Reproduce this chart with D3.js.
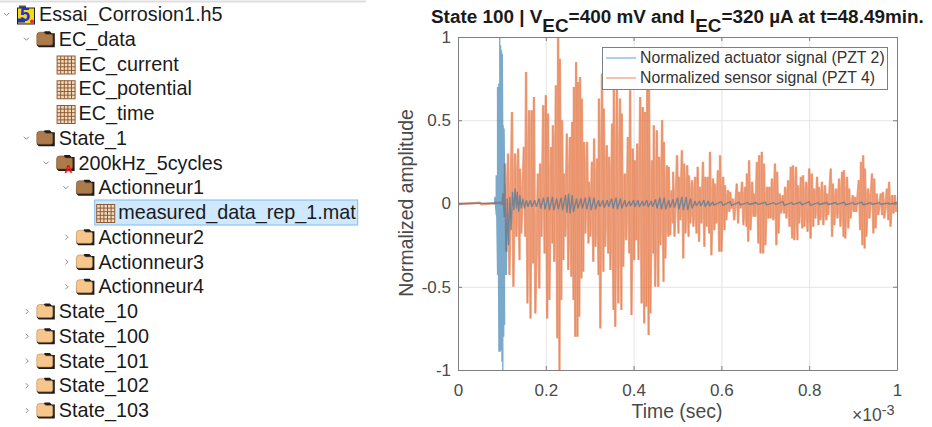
<!DOCTYPE html>
<html>
<head>
<meta charset="utf-8">
<script src="https://cdn.jsdelivr.net/npm/d3@7"></script>
<style>
  html, body { margin: 0; padding: 0; background: #fff; }
  svg { display: block; font-family: "Liberation Sans", Arial, sans-serif; }
</style>
</head>
<body>
<svg id="fig" width="932" height="427"></svg>
<script>
// Tree panel (left)
const treeLabels = ["Essai_Corrosion1.h5", "EC_data", "EC_current", "EC_potential", "EC_time", "State_1",
    "200kHz_5cycles", "Actionneur1", "measured_data_rep_1.mat", "Actionneur2", "Actionneur3", "Actionneur4",
    "State_10", "State_100", "State_101", "State_102", "State_103"];
const treeDepths = [0, 1, 2, 2, 2, 1, 2, 3, 4, 3, 3, 3, 1, 1, 1, 1, 1];
const treeIcons = ["file", "open", "grid", "grid", "grid", "open", "attr", "open", "grid", "closed", "closed", "closed",
    "closed", "closed", "closed", "closed", "closed"];
const treeArrows = ["down", "down", "", "", "", "down", "down", "down", "", "right", "right", "right",
    "right", "right", "right", "right", "right"];
const selectedRow = "measured_data_rep_1.mat";

// Chart text
const legendLabels = ["Normalized actuator signal (PZT 2)", "Normalized sensor signal (PZT 4)"];
const xTicks = [0, 0.2, 0.4, 0.6, 0.8, 1];
const yTicks = [-1, -0.5, 0, 0.5, 1];

// Actuator signal, peaks (time in 1e-3 sec)
const actuatorTimes = [0, 0.08, 0.084, 0.087, 0.09, 0.093, 0.095, 0.097, 0.099, 0.101, 0.103, 0.105, 0.107, 0.112, 0.118, 0.124, 0.13, 0.135, 0.141, 0.148, 0.156, 0.165,
    0.175, 0.185, 0.195, 0.205, 0.215, 0.225, 0.235, 0.245, 0.252, 0.26, 0.27, 0.28, 0.29, 0.3, 0.31, 0.32, 0.33, 0.34, 0.35,
    0.36, 0.37, 0.38, 0.39, 0.4, 0.41, 0.42, 0.43, 0.44, 0.45, 0.46, 0.47, 0.48, 0.49, 0.5, 0.51, 0.52, 0.53, 0.54, 0.55,
    0.56, 0.57, 0.58, 0.6, 0.62, 0.64, 0.66, 0.68, 0.7, 0.72, 0.74, 0.76, 0.78, 0.8, 0.82, 0.84, 0.86, 0.88, 0.9, 0.92, 0.94, 0.96, 0.98, 1];
const actuatorHigh = [0, 0.002, 0.04, 0.17, 0.7, 0.72, 1, 0.95, 0.92, 0.9, 0.47, 0.45, 0.12, 0.03, 0.04, 0.07, 0.09, 0.07, 0.05, 0.03, 0.02, 0.02,
    0.02, 0.03, 0.035, 0.04, 0.04, 0.03, 0.035, 0.05, 0.06, 0.05, 0.03, 0.03, 0.035, 0.04, 0.035, 0.02, 0.02, 0.02, 0.03,
    0.035, 0.03, 0.02, 0.015, 0.02, 0.02, 0.015, 0.02, 0.015, 0.025, 0.035, 0.035, 0.02, 0.025, 0.035, 0.04, 0.04, 0.03, 0.015, 0.015,
    0.02, 0.015, 0.01, 0.012, 0.012, 0.008, 0.006, 0.006, 0.008, 0.006, 0.012, 0.006, 0.008, 0.012, 0.006, 0.006, 0.006, 0.008, 0.006, 0.008, 0.005, 0.005, 0.004, 0.006];
const actuatorLow = [0, 0.002, 0.07, 0.43, 0.89, 0.89, 0.88, 0.95, 1, 0.8, 0.73, 0.43, 0.43, 0.25, 0.16, 0.04, 0.03, 0.05, 0.03, 0.03, 0.02, 0.02,
    0.02, 0.03, 0.035, 0.04, 0.04, 0.035, 0.04, 0.055, 0.06, 0.05, 0.03, 0.03, 0.035, 0.04, 0.035, 0.02, 0.025, 0.02, 0.03,
    0.035, 0.03, 0.02, 0.015, 0.02, 0.02, 0.015, 0.02, 0.02, 0.03, 0.035, 0.035, 0.025, 0.025, 0.035, 0.04, 0.04, 0.03, 0.015, 0.015,
    0.02, 0.015, 0.01, 0.012, 0.012, 0.008, 0.006, 0.006, 0.008, 0.006, 0.012, 0.006, 0.008, 0.012, 0.006, 0.006, 0.006, 0.008, 0.006, 0.008, 0.005, 0.005, 0.004, 0.006];

// Sensor signal, upper and lower peak of each visible spike
const sensorTimes = [0, 0.05, 0.098, 0.103, 0.107, 0.114, 0.123, 0.13, 0.137, 0.141, 0.15, 0.155, 0.162, 0.168, 0.173, 0.182, 0.187, 0.194, 0.2, 0.205,
    0.212, 0.216, 0.223, 0.228, 0.232, 0.237, 0.241, 0.248, 0.255, 0.26, 0.264, 0.269, 0.273, 0.278, 0.282, 0.287, 0.294, 0.298,
    0.305, 0.31, 0.317, 0.321, 0.328, 0.332, 0.339, 0.344, 0.351, 0.355, 0.362, 0.369, 0.373, 0.38, 0.387, 0.392, 0.398, 0.403,
    0.408, 0.415, 0.421, 0.426, 0.431, 0.435, 0.442, 0.446, 0.453, 0.458, 0.465, 0.469, 0.476, 0.48, 0.487, 0.49, 0.499, 0.503,
    0.51, 0.515, 0.522, 0.526, 0.533, 0.54, 0.546, 0.551, 0.558, 0.563, 0.569, 0.574, 0.581, 0.585, 0.592, 0.597, 0.604, 0.608,
    0.615, 0.62, 0.626, 0.635, 0.64, 0.647, 0.654, 0.658, 0.663, 0.67, 0.674, 0.681, 0.686, 0.692, 0.697, 0.704, 0.709, 0.715,
    0.722, 0.727, 0.733, 0.74, 0.745, 0.752, 0.758, 0.763, 0.77, 0.774, 0.781, 0.786, 0.793, 0.8, 0.806, 0.811, 0.818, 0.822,
    0.829, 0.836, 0.84, 0.849, 0.854, 0.861, 0.868, 0.875, 0.879, 0.886, 0.891, 0.899, 0.904, 0.913, 0.918, 0.923, 0.927, 0.934,
    0.943, 0.948, 0.954, 0.963, 0.968, 0.977, 0.982, 0.989, 0.995];
const sensorHigh = [0.004, 0.005, 0.006, 0.06, 0.24, 0.3, 0.55, 0.3, 0.33, 0.21, 0.34, 0.79, 0.56, 0.56, 0.64, 0.18, 0.24, 0.59, 0.65, 0.54,
    0.34, 0.47, 0.71, 1, 0.87, 0.5, 0.18, 0.42, 0.4, 0.49, 0.7, 0.85, 0.73, 0.76, 0.63, 0.37, 0.37, 0.13,
    0.25, 0.39, 0.27, 0.63, 0.78, 0.57, 0.35, 0.28, 0.48, 0.7, 0.69, 0.63, 0.54, 0.18, 0.4, 0.68, 0.33, 0.26,
    0.36, 0.64, 0.58, 0.55, 0.72, 0.72, 0.26, 0.47, 0.44, 0.28, 0.5, 0.37, 0.23, 0.22, 0.08, 0.19, 0.29, 0.16,
    0.32, 0.24, 0.23, 0.17, 0.14, 0.16, 0.22, 0.1, 0.25, 0.16, 0.16, 0.31, 0.15, 0.12, 0.2, 0.29, 0.16, 0.11,
    0.08, 0.07, 0.03, 0.12, 0.07, 0.13, 0.1, 0.18, 0.26, 0.13, 0.06, 0.25, 0.29, 0.31, 0.24, 0.1, 0.1, 0.15,
    0.24, 0.19, 0.06, 0.05, 0.1, 0.14, 0.22, 0.23, 0.22, 0.11, 0.16, 0.17, 0.13, 0.21, 0.18, 0.09, 0.16, 0.1,
    0.13, 0.11, 0.06, 0.21, 0.12, 0.09, 0.15, 0.19, 0.2, 0.16, 0.09, 0.05, 0.04, 0.14, 0.25, 0.29, 0.21, 0.09,
    0.18, 0.15, 0.06, 0.06, 0.07, 0.09, 0.13, 0.05, 0.05];
const sensorLow = [0.004, 0.005, 0.006, 0.08, 0.29, 0.43, 0.5, 0.2, 0.34, 0.18, 0.2, 0.6, 0.69, 0.36, 0.66, 0.51, 0.2, 0.3, 0.69, 0.58,
    0.24, 0.35, 0.81, 1, 0.58, 0.34, 0.2, 0.4, 0.44, 0.58, 0.8, 0.8, 0.68, 0.45, 0.41, 0.18, 0.24, 0.2,
    0.35, 0.26, 0.43, 0.75, 0.41, 0.26, 0.3, 0.4, 0.64, 0.74, 0.6, 0.64, 0.38, 0.22, 0.3, 0.67, 0.34, 0.22,
    0.34, 0.6, 0.72, 0.62, 0.79, 0.66, 0.3, 0.5, 0.5, 0.25, 0.47, 0.33, 0.2, 0.19, 0.12, 0.2, 0.18, 0.1,
    0.33, 0.18, 0.2, 0.12, 0.14, 0.18, 0.23, 0.12, 0.26, 0.14, 0.18, 0.31, 0.16, 0.12, 0.29, 0.29, 0.16, 0.1,
    0.05, 0.03, 0.1, 0.12, 0.03, 0.13, 0.14, 0.23, 0.16, 0.08, 0.08, 0.24, 0.3, 0.3, 0.25, 0.09, 0.09, 0.1,
    0.25, 0.18, 0.06, 0.06, 0.09, 0.14, 0.21, 0.22, 0.22, 0.12, 0.15, 0.14, 0.17, 0.21, 0.14, 0.09, 0.13, 0.1,
    0.13, 0.1, 0.07, 0.2, 0.13, 0.09, 0.14, 0.2, 0.21, 0.15, 0.09, 0.05, 0.05, 0.16, 0.25, 0.27, 0.2, 0.09,
    0.18, 0.15, 0.07, 0.07, 0.09, 0.1, 0.14, 0.06, 0.05];

const svg = d3.select("#fig");

// ---- tree panel ----
const rowY = d3.scaleLinear().domain([0, treeLabels.length - 1]).range([14.5, 410.5]);
const textX = d => 39 + 19.8 * d;

svg.append("line").attr("x1", 0).attr("x2", 366).attr("y1", 1.5).attr("y2", 1.5)
    .attr("stroke", "#dedede").attr("stroke-width", 2);

const rows = svg.append("g").selectAll("g")
    .data(treeLabels)
    .join("g")
    .attr("transform", (d, i) => `translate(${textX(treeDepths[i])}, ${rowY(i)})`);

rows.filter(d => d === selectedRow).append("rect")
    .attr("x", -23.5).attr("y", -12.5).attr("width", 263).attr("height", 25)
    .attr("fill", "#cde8ff").attr("stroke", "#7dbcf0");

rows.append("text")
    .attr("y", 6.5)
    .attr("font-size", 19.8)
    .attr("fill", "#1a1a1a")
    .text(d => d);

// expand arrows and icons
rows.each(function (d, i) {
    const g = d3.select(this);
    if (treeArrows[i] === "down") {
        g.append("path").attr("class", "arrow").attr("d", "M-35,-1.5 L-32.5,1 L-30,-1.5");
    } else if (treeArrows[i] === "right") {
        g.append("path").attr("class", "arrow").attr("d", "M-33,-2.5 L-30.5,0 L-33,2.5");
    }
    g.select(".arrow").attr("fill", "none").attr("stroke", "#8a8a8a").attr("stroke-width", 1);

    const kind = treeIcons[i];
    const icon = g.append("g").attr("transform", "translate(-22, 0)");
    if (kind === "grid") {
        drawGrid(icon);
    } else if (kind === "open" || kind === "attr") {
        drawFolder(icon, "#ad7a4c", "#7c4f28");
        if (kind === "attr") {
            icon.append("text").attr("x", 8).attr("y", 10).attr("font-size", 11).attr("font-weight", "bold")
                .attr("fill", "#e8141c").text("A");
        }
    } else if (kind === "closed") {
        drawFolder(icon, "#f6c68c", "#b98a50");
    } else if (kind === "file") {
        drawFile(icon);
    }
});

function drawFolder(g, fill, edge) {
    g.append("path").attr("d", "M1,-6 L6,-6 L8,-8 L13,-8 L15,-6 L18,-6 L18,8 L2,8 L0,6 Z").attr("fill", "#1c1c1c");
    g.append("path").attr("d", "M0,-4 Q0,-7 3,-7 L7,-7 L9,-5 L15,-5 Q16,-5 16,-3 L16,4 Q16,6 14,6 L2,6 Q0,6 0,4 Z")
        .attr("fill", fill).attr("stroke", edge).attr("stroke-width", 0.6);
}

function drawGrid(g) {
    g.append("rect").attr("x", 0.5).attr("y", -8).attr("width", 18).attr("height", 18)
        .attr("fill", "#f2dcc0").attr("stroke", "#8f5a33").attr("stroke-width", 1);
    d3.range(1, 5).forEach(k => {
        g.append("line").attr("x1", 0.5 + k * 3.6).attr("x2", 0.5 + k * 3.6).attr("y1", -8).attr("y2", 10)
            .attr("stroke", "#8f5a33").attr("stroke-width", 1);
        g.append("line").attr("x1", 0.5).attr("x2", 18.5).attr("y1", -8 + k * 3.6).attr("y2", -8 + k * 3.6)
            .attr("stroke", "#8f5a33").attr("stroke-width", 1);
    });
}

function drawFile(g) {
    g.append("rect").attr("x", 2).attr("y", -9).attr("width", 7).attr("height", 4).attr("fill", "#555");
    g.append("rect").attr("x", 0.5).attr("y", -6.5).attr("width", 17).attr("height", 16)
        .attr("fill", "#f3dc10").attr("stroke", "#222").attr("stroke-width", 1);
    g.append("text").attr("x", 3).attr("y", 6).attr("font-size", 18).attr("font-weight", "bold")
        .attr("fill", "#2231c8").text("5");
    g.append("rect").attr("x", 1).attr("y", 4).attr("width", 7).attr("height", 4).attr("fill", "#2231c8");
    g.append("circle").attr("cx", 15).attr("cy", 7).attr("r", 2).attr("fill", "#d8342a");
}

// ---- chart ----
const margin = { top: 37, right: 35, bottom: 57, left: 458 },
      width = 932 - margin.left - margin.right,
      height = 427 - margin.top - margin.bottom;

const chart = svg.append("g").attr("transform", `translate(${margin.left}, ${margin.top})`);

const xScale = d3.scaleLinear().domain([0, 1]).range([0, width]);
const yScale = d3.scaleLinear().domain([-1, 1]).range([height, 0]);

// grid
chart.append("g")
    .attr("transform", `translate(0, ${height})`)
    .call(d3.axisBottom(xScale).tickValues(xTicks).tickSize(-height).tickFormat(""))
    .call(g => g.select(".domain").remove())
    .selectAll("line").attr("stroke", "#e4e4e4");
chart.append("g")
    .call(d3.axisLeft(yScale).tickValues(yTicks).tickSize(-width).tickFormat(""))
    .call(g => g.select(".domain").remove())
    .selectAll("line").attr("stroke", "#e4e4e4");

// signals: each spike goes up to its high peak then down to its low peak
const halfPeriod = 0.0032;
const zigzag = (times, high, low) => times.flatMap((t, i) => [[t, high[i]], [t + halfPeriod, -low[i]]]);

const line = d3.line()
    .x(d => xScale(d[0]))
    .y(d => yScale(d[1]));

const clip = chart.append("clipPath").attr("id", "plot-area");
clip.append("rect").attr("width", width).attr("height", height);

const traces = chart.append("g").attr("clip-path", "url(#plot-area)");

const sensorPoints = zigzag(sensorTimes, sensorHigh, sensorLow);

traces.append("path")
    .datum(sensorPoints)
    .attr("fill", "none")
    .attr("stroke", "#e2652f")
    .attr("stroke-opacity", 0.58)
    .attr("stroke-width", 2.4)
    .attr("stroke-linejoin", "bevel")
    .attr("d", line);

// thin darker streak along the spikes
traces.append("path")
    .datum(sensorPoints)
    .attr("fill", "none")
    .attr("stroke", "#e2652f")
    .attr("stroke-opacity", 0.35)
    .attr("stroke-width", 0.7)
    .attr("d", line);

traces.append("path")
    .datum(zigzag(actuatorTimes, actuatorHigh, actuatorLow))
    .attr("fill", "none")
    .attr("stroke", "#2a74a8")
    .attr("stroke-opacity", 0.62)
    .attr("stroke-width", 1.3)
    .attr("stroke-linejoin", "bevel")
    .attr("d", line);

// axes with MATLAB style inward ticks
const styleAxis = g => {
    g.select(".domain").attr("stroke", "#7f7f7f");
    g.selectAll(".tick line").attr("stroke", "#7f7f7f");
    g.selectAll("text").attr("fill", "#4a4a4a").attr("font-size", 17).attr("font-family", "Liberation Sans, Arial, sans-serif");
};
const plainLabel = d => String(d);

chart.append("g")
    .attr("transform", `translate(0, ${height})`)
    .call(d3.axisBottom(xScale).tickValues(xTicks).tickSizeInner(-4).tickSizeOuter(0).tickPadding(14).tickFormat(plainLabel))
    .call(styleAxis);
chart.append("g")
    .call(d3.axisTop(xScale).tickValues(xTicks).tickSizeInner(-4).tickSizeOuter(0).tickFormat(""))
    .call(styleAxis);
chart.append("g")
    .call(d3.axisLeft(yScale).tickValues(yTicks).tickSizeInner(-4).tickSizeOuter(0).tickPadding(7).tickFormat(plainLabel))
    .call(styleAxis);
chart.append("g")
    .attr("transform", `translate(${width}, 0)`)
    .call(d3.axisRight(yScale).tickValues(yTicks).tickSizeInner(-4).tickSizeOuter(0).tickFormat(""))
    .call(styleAxis);

// title
const title = svg.append("text").attr("x", 431).attr("y", 23)
    .attr("font-size", 18.9).attr("font-weight", "bold").attr("fill", "#1a1a1a");
title.append("tspan").text("State 100 | V");
title.append("tspan").attr("dy", 9).text("EC");
title.append("tspan").attr("dy", -9).text("=400 mV and I");
title.append("tspan").attr("dy", 9).text("EC");
title.append("tspan").attr("dy", -9).text("=320 µA at t=48.49min.");

// axis labels
svg.append("text").attr("x", margin.left + width / 2 - 0.5).attr("y", 418)
    .attr("text-anchor", "middle").attr("font-size", 19.4).attr("fill", "#4a4a4a").text("Time (sec)");
svg.append("text").attr("transform", "translate(413, 203) rotate(-90)")
    .attr("text-anchor", "middle").attr("font-size", 19.4).attr("fill", "#4a4a4a").text("Normalized amplitude");

const expo = svg.append("text").attr("x", 852).attr("y", 421).attr("font-size", 17.5).attr("fill", "#4a4a4a");
expo.append("tspan").text("×10");
expo.append("tspan").attr("dy", -6).attr("font-size", 14.5).text("-3");

// legend
const legend = chart.append("g").attr("transform", "translate(144, 10)");
legend.append("rect").attr("x", 0.5).attr("y", 0.5).attr("width", 285).attr("height", 42)
    .attr("fill", "#fff").attr("stroke", "#7f7f7f");
const legendColors = ["#6fb3dd", "#ec9a78"];
const legendRows = legend.selectAll(".entry").data(legendLabels).join("g")
    .attr("class", "entry")
    .attr("transform", (d, i) => `translate(0, ${11 + i * 20})`);
legendRows.append("line").attr("x1", 4).attr("x2", 34)
    .attr("stroke", (d, i) => legendColors[i]).attr("stroke-width", 1.2);
legendRows.append("text").attr("x", 38).attr("y", 5).attr("font-size", 15.8).attr("fill", "#333").text(d => d);
</script>
</body>
</html>
